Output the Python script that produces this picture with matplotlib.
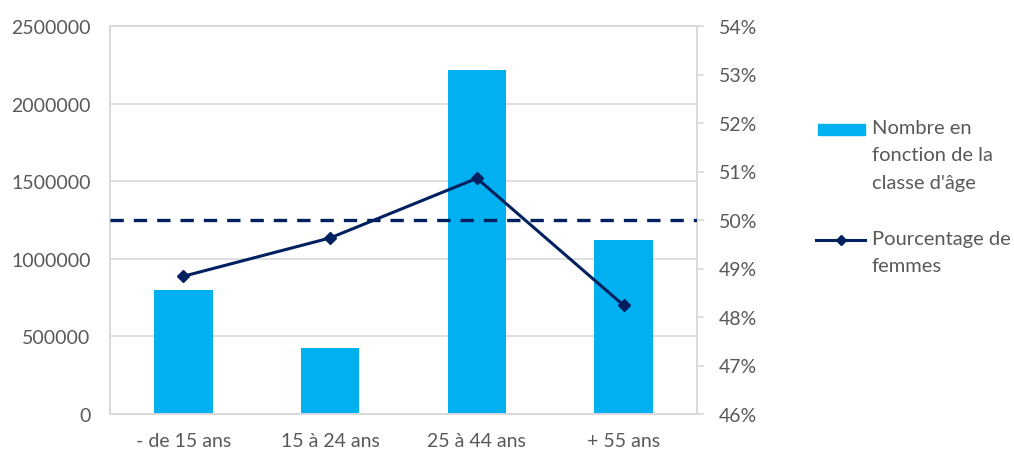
import matplotlib.pyplot as plt
from matplotlib.patches import Rectangle
from matplotlib.lines import Line2D
from matplotlib.ticker import FuncFormatter

plt.rcParams['font.family'] = ['Lato', 'DejaVu Sans']

categories = ['- de 15 ans', '15 à 24 ans', '25 à 44 ans', '+ 55 ans']
counts = [797000, 424000, 2214000, 1119000]
pct_women = [48.84, 49.63, 50.86, 48.24]
reference_pct = 50.0

barColor = '#00B0F0'
lineColor = '#002060'
textColor = '#595959'
gridColor = '#D9D9D9'

fig = plt.figure(figsize=(10.14, 4.52), dpi=100)
ax = fig.add_axes([110 / 1014, 1 - 415 / 452, 587 / 1014, 388 / 452])
x = list(range(len(categories)))

ax.bar(x, counts, width=0.4, color=barColor, zorder=2)
ax.set_xlim(-0.5, 3.5)
ax.set_ylim(0, 2500000)
ax.set_yticks(range(0, 2500001, 500000))
ax.yaxis.set_major_formatter(FuncFormatter(lambda v, p: '%d' % v))
ax.grid(axis='y', color=gridColor, linewidth=1.2, zorder=0)
ax.set_xticks(x)
ax.set_xticklabels(categories)
ax.tick_params(axis='both', length=0, labelsize=14, colors=textColor)
ax.tick_params(axis='y', pad=14)
ax.tick_params(axis='x', pad=13)
for s in ax.spines.values():
    s.set_color(gridColor)
    s.set_linewidth(1.2)

ax2 = ax.twinx()
ax2.axhline(reference_pct, color=lineColor, linestyle=(0, (4, 3)), linewidth=2.4, zorder=3)
ax2.plot(x, pct_women, color=lineColor, linewidth=2.2, marker='D', markersize=6, zorder=4)
ax2.set_ylim(46, 54)
ax2.set_yticks(range(46, 55))
ax2.yaxis.set_major_formatter(FuncFormatter(lambda v, p: '%d%%' % v))
ax2.tick_params(axis='y', length=5, width=1.2, color=gridColor, labelsize=14, labelcolor=textColor, pad=11)
for s in ax2.spines.values():
    s.set_color(gridColor)
    s.set_linewidth(1.2)

# legend drawn by hand so the keys sit on the first line of each label
fig.add_artist(Rectangle((818 / 1014, 1 - 136 / 452), 47 / 1014, 11 / 452,
                         transform=fig.transFigure, color=barColor))
fig.text(872 / 1014, 1 - 120 / 452, "Nombre en\nfonction de la\nclasse d'âge",
         fontsize=14.5, color=textColor, va='top', ha='left', linespacing=1.75)
fig.add_artist(Line2D([816 / 1014, 865 / 1014], [1 - 241 / 452, 1 - 241 / 452],
                      transform=fig.transFigure, color=lineColor, linewidth=2.2))
fig.add_artist(Line2D([840.5 / 1014], [1 - 241 / 452], transform=fig.transFigure,
                      color=lineColor, marker='D', markersize=5))
fig.text(872 / 1014, 1 - 231 / 452, "Pourcentage de\nfemmes",
         fontsize=14.5, color=textColor, va='top', ha='left', linespacing=1.75)

plt.savefig('out.png', dpi=100)
